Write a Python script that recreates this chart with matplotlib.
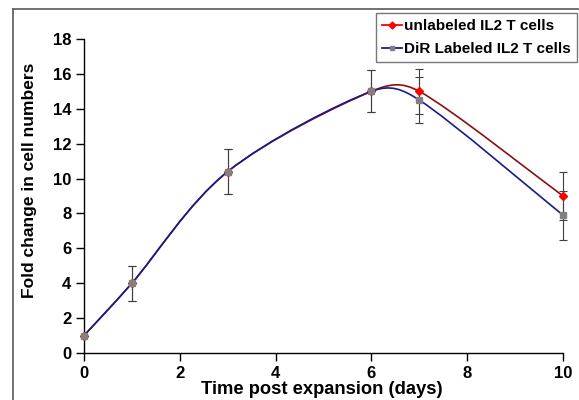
import numpy as np
import matplotlib
matplotlib.use("Agg")
import matplotlib.pyplot as plt
from matplotlib.path import Path
from matplotlib.patches import PathPatch
from matplotlib.lines import Line2D

plt.rcParams['font.family'] = ['Liberation Sans', 'DejaVu Sans']
plt.rcParams['font.weight'] = 'bold'

days = [0, 1, 3, 6, 7, 10]
unlabeled = [1.0, 4.0, 10.4, 15.0, 15.0, 9.0]
unlabeled_err = [0.0, 1.0, 1.3, 1.2, 1.3, 1.4]
dir_labeled = [1.0, 4.0, 10.4, 15.0, 14.5, 7.9]
dir_err = [0.0, 1.0, 1.3, 1.2, 1.3, 1.4]
series_names = ["unlabeled IL2 T cells", "DiR Labeled IL2 T cells"]

W, H = 579, 400
fig = plt.figure(figsize=(W / 100, H / 100), dpi=100)
ax = fig.add_axes([84 / W, (H - 353) / H, (563 - 84) / W, (353 - 39) / H])
ax.set_xlim(0, 10)
ax.set_ylim(0, 18)
ax.set_xticks([0, 2, 4, 6, 8, 10])
ax.set_yticks(np.arange(0, 19, 2))
for s in ['top', 'right']:
    ax.spines[s].set_visible(False)
for s in ['left', 'bottom']:
    ax.spines[s].set_linewidth(1.0)
    ax.spines[s].set_color('black')
ax.tick_params(axis='both', direction='out', length=6, width=1, labelsize=12, pad=3)
for lab in ax.get_xticklabels() + ax.get_yticklabels():
    lab.set_fontweight('bold')


def smooth_path(x, y, clamp=0.42):
    pts = ax.transData.transform(np.column_stack([x, y]))
    n = len(pts)
    verts = [pts[0]]
    codes = [Path.MOVETO]
    for i in range(n - 1):
        p0 = pts[max(i - 1, 0)]
        p1 = pts[i]
        p2 = pts[i + 1]
        p3 = pts[min(i + 2, n - 1)]
        seg = np.hypot(*(p2 - p1))
        t1 = (p2 - p0) / 6.0
        t2 = (p3 - p1) / 6.0
        for t in (t1, t2):
            L = np.hypot(*t)
            if L > clamp * seg:
                t *= clamp * seg / L
        verts += [p1 + t1, p2 - t2, p2]
        codes += [Path.CURVE4] * 3
    inv = ax.transData.inverted()
    return Path(inv.transform(np.array(verts)), codes)


red_line = '#8B1010'
blue_line = '#1A1A8C'

# error bars
for yv, ev in ((unlabeled, unlabeled_err), (dir_labeled, dir_err)):
    eb = ax.errorbar(days[1:], yv[1:], yerr=ev[1:], fmt='none',
                     ecolor='#404040', elinewidth=0.8, capsize=3, capthick=0.8, zorder=2)
    for art in eb.lines[1] + eb.lines[2]:
        art.set_clip_on(False)

ax.add_patch(PathPatch(smooth_path(days, unlabeled), facecolor='none',
                       edgecolor=red_line, lw=1.2, zorder=3))
ax.plot(days, unlabeled, linestyle='none', marker='D', markersize=4.5,
        color='#FF0000', zorder=4, clip_on=False)
ax.add_patch(PathPatch(smooth_path(days, dir_labeled), facecolor='none',
                       edgecolor=blue_line, lw=1.2, zorder=5))
ax.plot(days, dir_labeled, linestyle='none', marker='s', markersize=4.2,
        color='#808080', zorder=6, clip_on=False)

fig.text(322 / W, 1 - 390 / H, "Time post expansion (days)", ha='center', va='center',
         fontsize=13.2, fontweight='bold')
fig.text(30 / W, 1 - 180 / H, "Fold change in cell numbers", ha='center', va='center',
         rotation=90, fontsize=12.5, fontweight='bold')

handles = [
    Line2D([], [], color='#FF0000', lw=1.3, marker='D', markersize=3.5),
    Line2D([], [], color=blue_line, lw=1.3, marker='s', markersize=3.5,
           markerfacecolor='#808080', markeredgecolor='#808080'),
]
leg = fig.legend(handles, series_names, loc='upper left',
                 bbox_to_anchor=(376 / W, 1 - 13 / H), borderaxespad=0,
                 frameon=True, fancybox=False, edgecolor='#555555',
                 prop={'weight': 'bold', 'size': 11}, handlelength=1.3,
                 handletextpad=0.15, borderpad=0.4, labelspacing=0.6)
leg.get_frame().set_linewidth(1.0)

# outer chart border
fig.add_artist(Line2D([13 / W, 13 / W], [0, 1 - 9 / H], transform=fig.transFigure,
                      color='#5a5a5a', lw=1.2))
fig.add_artist(Line2D([13 / W, 1], [1 - 9 / H, 1 - 9 / H], transform=fig.transFigure,
                      color='#5a5a5a', lw=1.2))

fig.savefig('out.png', dpi=100)
